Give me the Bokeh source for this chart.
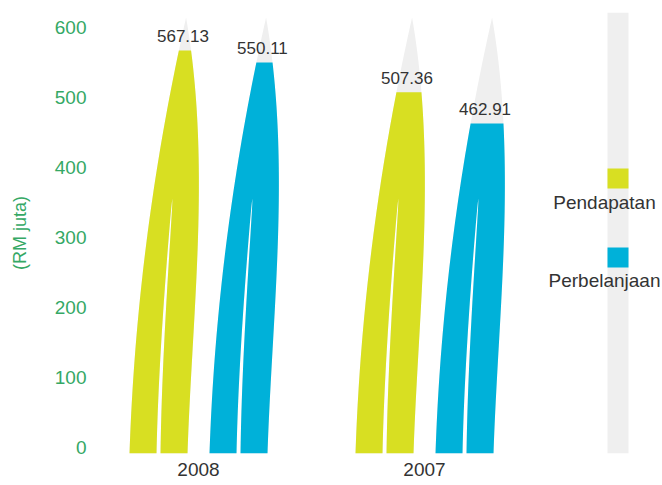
import numpy as np
from bokeh.plotting import figure
from bokeh.models import ColumnDataSource, FixedTicker, BoxAnnotation, Label, Range1d
from bokeh.core.properties import value
from bokeh.embed import file_html
from bokeh.resources import INLINE

# ---------------- data ----------------
years = ["2008", "2007"]
pendapatan = [567.13, 507.36]
perbelanjaan = [550.11, 462.91]
series_names = ["Pendapatan", "Perbelanjaan"]
y_ticks = [0, 100, 200, 300, 400, 500, 600]
y_title = "(RM juta)"

# ---------------- style ----------------
COLORS = ["#d8df22", "#00b1d9"]
GRAY = "#efefef"
GREEN = "#35a865"
DARK = "#333333"
FONT = "Liberation Sans"

W, H = 662, 485
FRAME_L, FRAME_T, FRAME_B = 95, 12, 32
Y0, Y1 = -8.6, 621.4
X0 = -(198 - FRAME_L) / 226.0
X1 = (W - 198) / 226.0
FRAME_W = W - FRAME_L
FRAME_H = H - FRAME_T - FRAME_B
PXX = FRAME_W / (X1 - X0)   # px per x unit
PXY = FRAME_H / (Y1 - Y0)   # px per y unit

# blade geometry (pixels)
TIP_H = 436.0
GAP_H = 255.0
BASE_W = 58.0
SERIES_OFF = [-69.0, 11.0]


def left_edge(h):
    return 2.206e-4 * h * h + 0.0336 * h


def width_at(h):
    return BASE_W * (1 - (h / TIP_H) ** 3)


def blade(cx, off, top_val):
    hv = min((top_val - Y0) * PXY, TIP_H)
    hs = np.linspace(0, hv, 90)
    L = left_edge(hs)
    R = L + width_at(hs)
    hg = np.linspace(0, min(GAP_H, hv), 50)
    Lg = left_edge(hg)
    f = 0.5 - 0.07 * hg / GAP_H
    g = Lg + f * width_at(hg)
    hw = 2.0 * np.sqrt(np.clip(1 - hg / GAP_H, 0, None))
    px = np.concatenate([L, R[::-1], g + hw, (g - hw)[::-1]])
    py = np.concatenate([hs, hs[::-1], hg, hg[::-1]])
    xs = cx + (off + px) / PXX
    ys = Y0 + py / PXY
    top_cx = cx + (off + (L[-1] + R[-1]) / 2) / PXX
    return list(xs), list(ys), top_cx


p = figure(width=W, height=H, output_backend="svg", toolbar_location=None,
           x_range=Range1d(X0, X1), y_range=Range1d(Y0, Y1),
           min_border_left=FRAME_L, min_border_right=0,
           min_border_top=FRAME_T, min_border_bottom=FRAME_B)
p.outline_line_color = None
p.grid.visible = False
p.background_fill_color = "white"
p.border_fill_color = "white"

# legend column (background)
leg_l, leg_r = (607 - 198) / PXX, (628 - 198) / PXX
p.add_layout(BoxAnnotation(left=leg_l, right=leg_r,
                           fill_color=GRAY, fill_alpha=1, line_color=None, level="underlay"))

series_vals = [pendapatan, perbelanjaan]
gray_xs, gray_ys = [], []
col_xs, col_ys, col_c = [], [], []
lab_x, lab_y, lab_t = [], [], []
for i, yr in enumerate(years):
    for s, vals in enumerate(series_vals):
        gx, gy, _ = blade(i, SERIES_OFF[s], 1e9)
        gray_xs.append(gx); gray_ys.append(gy)
        cxs, cys, tcx = blade(i, SERIES_OFF[s], vals[i])
        col_xs.append(cxs); col_ys.append(cys); col_c.append(COLORS[s])
        lab_x.append(tcx - 2 / PXX); lab_y.append(vals[i] + 14 / PXY); lab_t.append(f"{vals[i]:.2f}")

p.patches(gray_xs, gray_ys, fill_color=GRAY, line_color=None)
p.patches(xs="xs", ys="ys", fill_color="c", line_color=None,
          source=ColumnDataSource(dict(xs=col_xs, ys=col_ys, c=col_c)))
p.text(x="x", y="y", text="t", source=ColumnDataSource(dict(x=lab_x, y=lab_y, t=lab_t)),
       text_align="center", text_baseline="middle", text_font=value(FONT),
       text_font_size="17px", text_color=DARK)

# custom legend
leg_sq = [(398.6, 370.0), (285.7, 257.0)]
leg_lab_y = [350.0, 238.6]
for s, name in enumerate(series_names):
    p.add_layout(BoxAnnotation(left=leg_l, right=leg_r, top=leg_sq[s][0], bottom=leg_sq[s][1],
                               fill_color=COLORS[s], fill_alpha=1, line_color=None))
    p.add_layout(Label(x=(604 - 198) / PXX, y=leg_lab_y[s], text=name, text_align="center",
                       text_baseline="middle", text_font=FONT, text_font_size="19px",
                       text_color=DARK))

# axes
p.yaxis.ticker = FixedTicker(ticks=y_ticks)
p.yaxis.axis_line_color = None
p.yaxis.major_tick_line_color = None
p.yaxis.minor_tick_line_color = None
p.yaxis.major_tick_out = 0
p.yaxis.major_tick_in = 0
p.yaxis.major_label_standoff = 9
p.yaxis.major_label_text_color = GREEN
p.yaxis.major_label_text_font = FONT
p.yaxis.major_label_text_font_size = "19px"
p.yaxis.axis_label = y_title
p.yaxis.axis_label_text_color = GREEN
p.yaxis.axis_label_text_font = FONT
p.yaxis.axis_label_text_font_style = "normal"
p.yaxis.axis_label_text_font_size = "18px"
p.yaxis.axis_label_standoff = 22

p.xaxis.ticker = FixedTicker(ticks=list(range(len(years))))
p.xaxis.major_label_overrides = {i: y for i, y in enumerate(years)}
p.xaxis.axis_line_color = None
p.xaxis.major_tick_line_color = None
p.xaxis.minor_tick_line_color = None
p.xaxis.major_tick_out = 0
p.xaxis.major_tick_in = 0
p.xaxis.major_label_standoff = 9
p.xaxis.major_label_text_color = DARK
p.xaxis.major_label_text_font = FONT
p.xaxis.major_label_text_font_size = "19px"

open("out.html", "w").write(file_html(p, INLINE))
